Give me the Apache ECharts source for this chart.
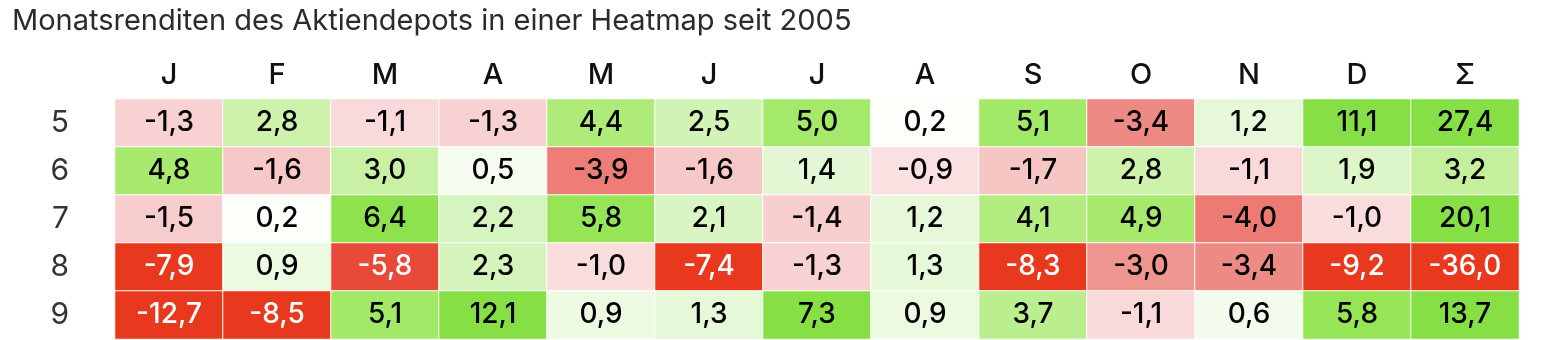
<!DOCTYPE html>
<html>
<head>
<meta charset="utf-8">
<script src="https://cdn.jsdelivr.net/npm/echarts@6/dist/echarts.min.js"></script>
<style>
  html, body { margin: 0; padding: 0; background: #fff; }
  #chart { width: 1552px; height: 340px; }
</style>
</head>
<body>
<div id="chart"></div>
<script>
// Column headers: months January..December plus the yearly sum
const months = ['J', 'F', 'M', 'A', 'M', 'J', 'J', 'A', 'S', 'O', 'N', 'D', 'Σ'];
// Row headers: last digit of the year (2005..2009)
const years = ['5', '6', '7', '8', '9'];

// Monthly returns in percent, last entry is the yearly total
const r2005 = [-1.3, 2.8, -1.1, -1.3, 4.4, 2.5, 5.0, 0.2, 5.1, -3.4, 1.2, 11.1, 27.4];
const r2006 = [4.8, -1.6, 3.0, 0.5, -3.9, -1.6, 1.4, -0.9, -1.7, 2.8, -1.1, 1.9, 3.2];
const r2007 = [-1.5, 0.2, 6.4, 2.2, 5.8, 2.1, -1.4, 1.2, 4.1, 4.9, -4.0, -1.0, 20.1];
const r2008 = [-7.9, 0.9, -5.8, 2.3, -1.0, -7.4, -1.3, 1.3, -8.3, -3.0, -3.4, -9.2, -36.0];
const r2009 = [-12.7, -8.5, 5.1, 12.1, 0.9, 1.3, 7.3, 0.9, 3.7, -1.1, 0.6, 5.8, 13.7];

const rows = [r2005, r2006, r2007, r2008, r2009];

const FONT = 'Inter, "Noto Sans", sans-serif';

const data = [];
rows.forEach((row, yi) => {
  row.forEach((v, xi) => {
    data.push({
      value: [xi, yi, v],
      label: { color: v <= -5 ? '#ffffff' : '#000000' }
    });
  });
});

const chart = echarts.init(document.getElementById('chart'), null, { renderer: 'canvas' });
chart.setOption({
  animation: false,
  backgroundColor: '#ffffff',
  title: {
    text: 'Monatsrenditen des Aktiendepots in einer Heatmap seit 2005',
    left: 7,
    top: 2,
    textStyle: { fontFamily: FONT, fontSize: 29, fontWeight: 'normal', color: '#2b2b2b' }
  },
  grid: { left: 115, top: 99, width: 1404, height: 240 },
  xAxis: {
    type: 'category',
    position: 'top',
    data: months,
    axisLine: { show: false },
    axisTick: { show: false },
    splitLine: { show: false },
    axisLabel: { fontFamily: FONT, fontSize: 29, fontWeight: 500, color: '#111111', margin: 9 }
  },
  yAxis: {
    type: 'category',
    inverse: true,
    data: years,
    axisLine: { show: false },
    axisTick: { show: false },
    splitLine: { show: false },
    axisLabel: { fontFamily: FONT, fontSize: 30, color: '#333333', margin: 46, padding: [0, 0, 6, 0] }
  },
  visualMap: {
    show: false,
    type: 'continuous',
    dimension: 2,
    min: -7,
    max: 7,
    inRange: {
      color: [
        '#e8391f', '#e84433', '#eb5f53', '#ed7a73', '#ef9590', '#f4bcbb', '#f9dcdc',
        '#ffffff',
        '#eaf9df', '#daf5c6', '#c8f1a5', '#b5ed84', '#a4e969', '#93e452', '#86e045'
      ]
    }
  },
  series: [{
    type: 'heatmap',
    data: data,
    itemStyle: { borderColor: '#ffffff', borderWidth: 1 },
    label: {
      show: true,
      fontFamily: FONT,
      fontSize: 28,
      fontWeight: 500,
      padding: [5, 0, 0, 0],
      formatter: p => p.value[2].toFixed(1).replace('.', ',')
    },
    emphasis: { disabled: true }
  }]
});
</script>
</body>
</html>
